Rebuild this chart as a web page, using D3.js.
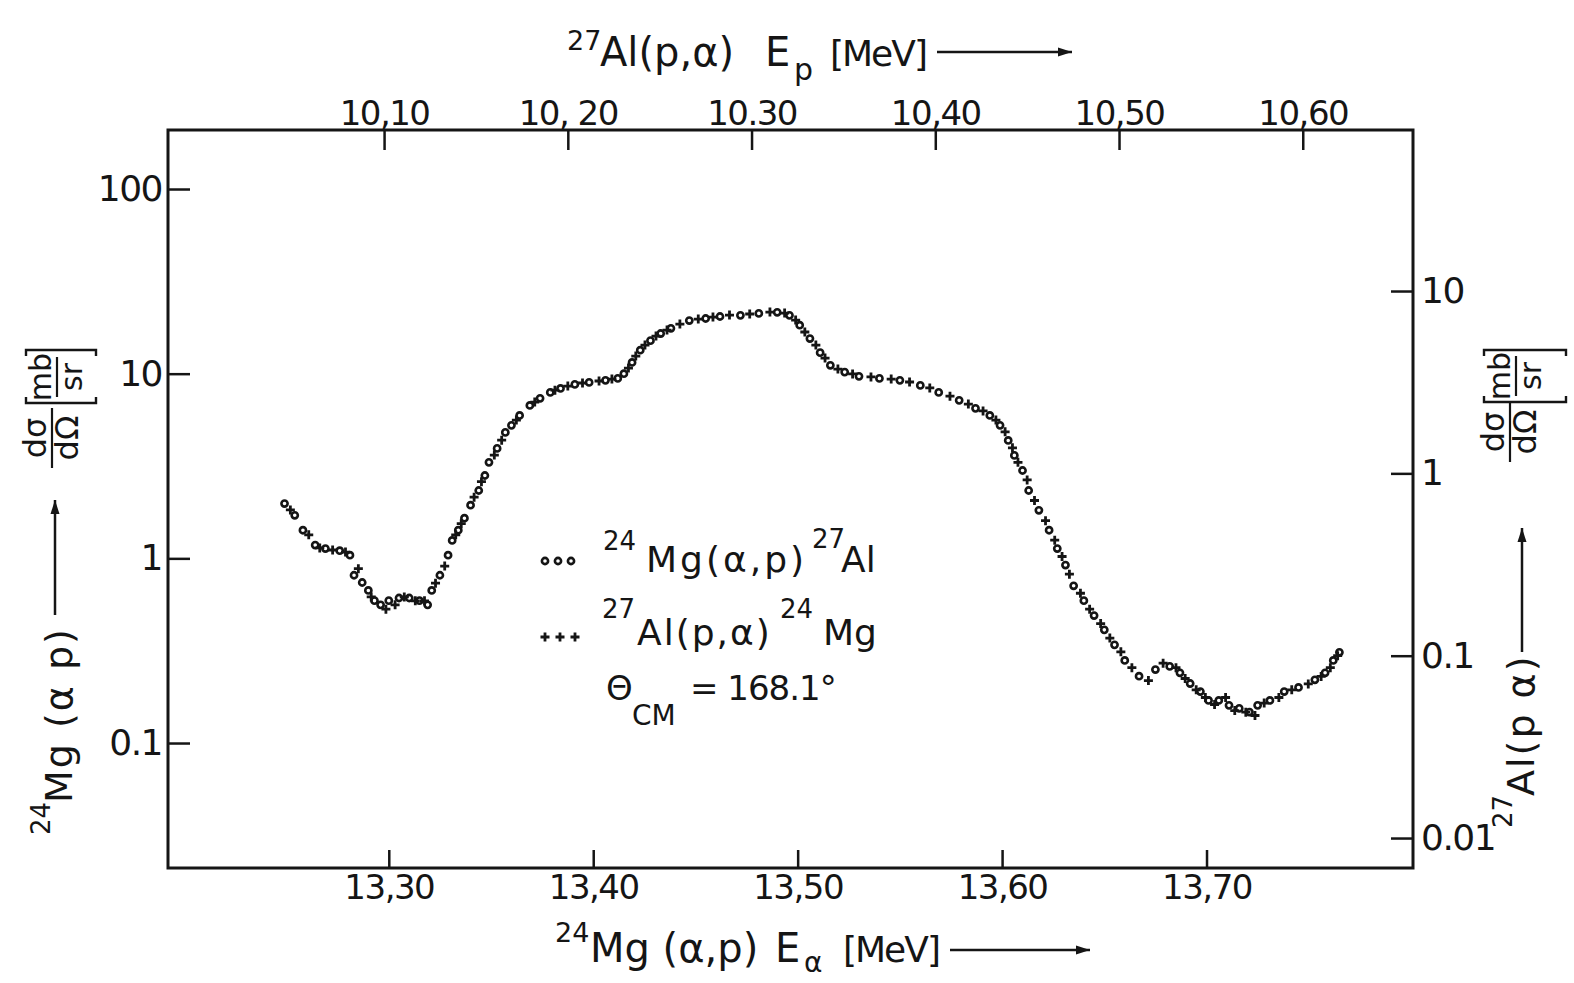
<!DOCTYPE html>
<html>
<head>
<meta charset="utf-8">
<script src="https://cdn.jsdelivr.net/npm/d3@7"></script>
<style>
body { margin: 0; background: #fff; }
svg text { font-family: "DejaVu Sans", sans-serif; fill: #151515; }
</style>
</head>
<body>
<div id="viz"></div>
<script>

/* 24Mg(a,p)27Al and 27Al(p,a)24Mg excitation functions, theta_cm = 168.1 deg */

// 24Mg(a,p)27Al points : E_alpha [MeV] , dsigma/dOmega [mb/sr] (left axis)
const alphaE = [13.249, 13.254, 13.258, 13.264, 13.269, 13.276, 13.281, 13.283, 13.287, 13.290,
    13.293, 13.296, 13.300, 13.305, 13.310, 13.315, 13.319, 13.321, 13.325, 13.329,
    13.331, 13.334, 13.337, 13.340, 13.344, 13.347, 13.349, 13.353, 13.357, 13.360,
    13.364, 13.369, 13.374, 13.379, 13.384, 13.391, 13.398, 13.406, 13.412, 13.415,
    13.419, 13.423, 13.428, 13.433, 13.438, 13.447, 13.455, 13.462, 13.472, 13.481,
    13.490, 13.496, 13.501, 13.506, 13.511, 13.516, 13.523, 13.530, 13.540, 13.550,
    13.560, 13.569, 13.579, 13.587, 13.594, 13.599, 13.603, 13.606, 13.610, 13.613,
    13.618, 13.623, 13.627, 13.631, 13.635, 13.640, 13.645, 13.650, 13.655, 13.660,
    13.667, 13.675, 13.682, 13.687, 13.692, 13.697, 13.701, 13.706, 13.711, 13.716,
    13.721, 13.725, 13.731, 13.738, 13.745, 13.753, 13.758, 13.762, 13.765];
const alphaSigma = [1.98, 1.71, 1.42, 1.18, 1.13, 1.10, 1.04, 0.81, 0.74, 0.67,
    0.59, 0.56, 0.59, 0.61, 0.61, 0.59, 0.56, 0.67, 0.81, 1.04,
    1.25, 1.42, 1.65, 1.94, 2.33, 2.81, 3.31, 3.94, 4.81, 5.25,
    5.94, 6.73, 7.35, 7.92, 8.32, 8.75, 8.97, 9.20, 9.43, 10.0,
    11.5, 13.4, 15.1, 16.5, 17.6, 19.4, 19.9, 20.4, 20.7, 21.2,
    21.5, 20.7, 18.3, 15.5, 13.0, 11.1, 10.2, 9.67, 9.43, 9.20,
    8.64, 7.92, 7.17, 6.49, 5.94, 5.25, 4.35, 3.61, 2.99, 2.33,
    1.82, 1.42, 1.13, 0.92, 0.71, 0.59, 0.49, 0.41, 0.34, 0.28,
    0.23, 0.25, 0.26, 0.24, 0.21, 0.19, 0.17, 0.17, 0.16, 0.154,
    0.147, 0.16, 0.17, 0.19, 0.20, 0.22, 0.24, 0.28, 0.31];

// 27Al(p,a)24Mg points : E_p [MeV] , dsigma/dOmega [mb/sr] (right axis)
const protonE = [10.049, 10.059, 10.065, 10.072, 10.079, 10.086, 10.093, 10.101, 10.106, 10.111,
    10.117, 10.122, 10.128, 10.133, 10.139, 10.142, 10.149, 10.153, 10.160, 10.164,
    10.172, 10.182, 10.193, 10.200, 10.208, 10.217, 10.224, 10.233, 10.237, 10.242,
    10.248, 10.254, 10.261, 10.271, 10.279, 10.288, 10.299, 10.310, 10.318, 10.324,
    10.329, 10.335, 10.340, 10.347, 10.355, 10.365, 10.376, 10.386, 10.397, 10.408,
    10.418, 10.426, 10.433, 10.438, 10.442, 10.445, 10.450, 10.454, 10.460, 10.465,
    10.469, 10.473, 10.479, 10.484, 10.490, 10.495, 10.501, 10.507, 10.516, 10.524,
    10.531, 10.536, 10.542, 10.547, 10.552, 10.558, 10.563, 10.569, 10.574, 10.579,
    10.587, 10.594, 10.603, 10.610, 10.615, 10.619];
const protonSigma = [0.63, 0.46, 0.39, 0.38, 0.37, 0.30, 0.21, 0.18, 0.19, 0.21,
    0.20, 0.20, 0.25, 0.31, 0.46, 0.53, 0.74, 0.90, 1.26, 1.52,
    1.96, 2.46, 2.86, 3.01, 3.13, 3.21, 3.29, 3.78, 4.40, 5.05,
    5.66, 6.11, 6.59, 7.02, 7.20, 7.38, 7.48, 7.67, 7.57, 6.93,
    5.96, 5.05, 4.29, 3.73, 3.51, 3.38, 3.29, 3.17, 2.94, 2.65,
    2.40, 2.20, 1.96, 1.69, 1.38, 1.15, 0.92, 0.71, 0.55, 0.43,
    0.35, 0.28, 0.22, 0.18, 0.15, 0.125, 0.105, 0.086, 0.073, 0.091,
    0.086, 0.075, 0.065, 0.059, 0.054, 0.059, 0.050, 0.049, 0.047, 0.055,
    0.059, 0.065, 0.070, 0.077, 0.086, 0.100];

// tick values and the labels as printed
const bottomTicks = [13.30, 13.40, 13.50, 13.60, 13.70];
const bottomLabels = ["13,30", "13,40", "13,50", "13,60", "13,70"];
const topTicks = [10.10, 10.20, 10.30, 10.40, 10.50, 10.60];
const topLabels = ["10,10", "10, 20", "10.30", "10,40", "10,50", "10,60"];
const leftTicks = [100, 10, 1, 0.1];
const leftLabels = ["100", "10", "1", "0.1"];
const rightTicks = [10, 1, 0.1, 0.01];
const rightLabels = ["10", "1", "0.1", "0.01"];


const width = 1574, height = 983;
const frame = { left: 168, right: 1413, top: 130, bottom: 868 };
const ink = "#151515";

const svg = d3.select("#viz").append("svg")
    .attr("width", width)
    .attr("height", height);

svg.append("rect").attr("width", width).attr("height", height).attr("fill", "#fff");

// scales: bottom/left for (a,p), top/right for (p,a)
const xBot = d3.scaleLinear([13.192, 13.801], [frame.left, frame.right]);
const xTop = d3.scaleLinear([9.9824, 10.660], [frame.left, frame.right]);
const yLeft = d3.scaleLog([0.02105, 208.7], [frame.bottom, frame.top]);
const yRight = d3.scaleLog([0.00685, 76.4], [frame.bottom, frame.top]);

// style an axis group: no domain, thick ticks
function styleAxis(g, size) {
    g.select(".domain").remove();
    g.selectAll(".tick line").attr("stroke", ink).attr("stroke-width", 2.5);
    g.selectAll(".tick text").style("font-size", size + "px").style("letter-spacing", "-1.5px");
}

svg.append("g")
    .attr("transform", `translate(0,${frame.bottom})`)
    .call(d3.axisBottom(xBot).tickValues(bottomTicks).tickFormat((d, i) => bottomLabels[i])
        .tickSizeInner(-18).tickSizeOuter(0).tickPadding(7))
    .call(g => styleAxis(g, 34));

svg.append("g")
    .attr("transform", `translate(0,${frame.top})`)
    .call(d3.axisTop(xTop).tickValues(topTicks).tickFormat((d, i) => topLabels[i])
        .tickSizeInner(-20).tickSizeOuter(0).tickPadding(5))
    .call(g => styleAxis(g, 34));

svg.append("g")
    .attr("transform", `translate(${frame.left},0)`)
    .call(d3.axisLeft(yLeft).tickValues(leftTicks).tickFormat((d, i) => leftLabels[i])
        .tickSizeInner(-22).tickSizeOuter(0).tickPadding(6))
    .call(g => styleAxis(g, 36));

svg.append("g")
    .attr("transform", `translate(${frame.right},0)`)
    .call(d3.axisRight(yRight).tickValues(rightTicks).tickFormat((d, i) => rightLabels[i])
        .tickSizeInner(-22).tickSizeOuter(0).tickPadding(8))
    .call(g => styleAxis(g, 36));

// frame
svg.append("rect")
    .attr("x", frame.left).attr("y", frame.top)
    .attr("width", frame.right - frame.left).attr("height", frame.bottom - frame.top)
    .attr("fill", "none").attr("stroke", ink).attr("stroke-width", 3);

// marks
function circles(g, pts) {
    g.selectAll("circle.pt").data(pts).join("circle")
        .attr("class", "pt")
        .attr("cx", d => d.x).attr("cy", d => d.y).attr("r", 3.1)
        .attr("fill", "none").attr("stroke", ink).attr("stroke-width", 2.6);
}
function crosses(g, pts) {
    g.selectAll("path.pt").data(pts).join("path")
        .attr("class", "pt")
        .attr("d", d => `M${d.x - 4.5},${d.y}H${d.x + 4.5}M${d.x},${d.y - 4.5}V${d.y + 4.5}`)
        .attr("stroke", ink).attr("stroke-width", 2.8);
}

const alphaPts = alphaE.map((e, i) => ({ x: xBot(e), y: yLeft(alphaSigma[i]) }));
const protonPts = protonE.map((e, i) => ({ x: xTop(e), y: yRight(protonSigma[i]) }));

circles(svg.append("g"), alphaPts);
crosses(svg.append("g"), protonPts);

// helpers for text
function txt(g, x, y, s, size, opts = {}) {
    return g.append("text")
        .attr("x", x).attr("y", y)
        .attr("text-anchor", opts.anchor || "start")
        .style("font-size", size + "px")
        .style("letter-spacing", (opts.ls || 0) + "px")
        .text(s);
}
function arrow(g, x1, y1, x2, y2) {
    g.append("line").attr("x1", x1).attr("y1", y1).attr("x2", x2).attr("y2", y2)
        .attr("stroke", ink).attr("stroke-width", 2.5);
    const a = Math.atan2(y2 - y1, x2 - x1), L = 14, w = 4.5;
    const bx = x2 - L * Math.cos(a), by = y2 - L * Math.sin(a);
    const px = -Math.sin(a) * w, py = Math.cos(a) * w;
    g.append("path")
        .attr("d", `M${x2},${y2}L${bx + px},${by + py}L${bx - px},${by - py}Z`)
        .attr("fill", ink);
}

// top title: 27Al(p,a)  Ep[MeV] -->
txt(svg, 567, 50, "27", 27);
txt(svg, 600, 66, "Al(p,α)", 40);
txt(svg, 765, 66, "E", 40);
txt(svg, 794, 80, "p", 30);
txt(svg, 830, 66, "[MeV]", 36, { ls: -2 });
arrow(svg, 937, 52, 1072, 52);

// bottom title: 24Mg (a,p)  Ea [MeV] -->
txt(svg, 555, 942, "24", 27);
txt(svg, 590, 962, "Mg (α,p)", 40);
txt(svg, 775, 962, "E", 40);
txt(svg, 804, 972, "α", 28);
txt(svg, 843, 962, "[MeV]", 36, { ls: -2 });
arrow(svg, 950, 950, 1090, 950);

// rotated side labels, drawn in a rotate(-90) frame: local x = -screenY, local y = screenX
function sideLabel(sx, iso, reaction, yStart) {
    const g = svg.append("g").attr("transform", "rotate(-90)");
    txt(g, -yStart, sx - 22, iso, 26);
    txt(g, -yStart + 32, sx, reaction, 38, { ls: 2 });
    return g;
}
function fraction(g, sxLine, syCenter, num, den, size, half) {
    txt(g, -syCenter, sxLine - 6, num, size, { anchor: "middle" });
    txt(g, -syCenter, sxLine + size * 0.82, den, size, { anchor: "middle" });
    g.append("line")
        .attr("x1", -syCenter - half).attr("x2", -syCenter + half)
        .attr("y1", sxLine).attr("y2", sxLine)
        .attr("stroke", ink).attr("stroke-width", 2.2);
}
function bracket(g, sx1, sx2, sy1, sy2) {
    // sy1 bottom '[' , sy2 top ']'
    g.append("path")
        .attr("d", `M${-sy1 + 6},${sx1}H${-sy1}V${sx2}H${-sy1 + 6}` +
                   `M${-sy2 - 6},${sx1}H${-sy2}V${sx2}H${-sy2 - 6}`)
        .attr("fill", "none").attr("stroke", ink).attr("stroke-width", 2.4);
}

// left label
const gl = sideLabel(72, "24", "Mg (α p)", 835);
arrow(svg, 55, 615, 55, 500);
fraction(gl, 52, 438, "dσ", "dΩ", 32, 30);
bracket(gl, 26, 96, 403, 350);
fraction(gl, 57, 377, "mb", "sr", 30, 20);

// right label
const gr = sideLabel(1534, "27", "Al(p α)", 828);
arrow(svg, 1522, 652, 1522, 528);
fraction(gr, 1510, 432, "dσ", "dΩ", 32, 30);
bracket(gr, 1484, 1566, 402, 350);
fraction(gr, 1516, 376, "mb", "sr", 30, 20);

// legend
const lg = svg.append("g");
circles(lg, [545, 558, 571].map(x => ({ x: x, y: 561 })));
txt(lg, 603, 550, "24", 26);
txt(lg, 646, 572, "Mg(α,p)", 36, { ls: 3 });
txt(lg, 812, 548, "27", 26);
txt(lg, 841, 572, "Al", 36);

crosses(lg, [545, 560, 575].map(x => ({ x: x, y: 637 })));
txt(lg, 602, 618, "27", 26);
txt(lg, 637, 645, "Al(p,α)", 36, { ls: 2 });
txt(lg, 780, 618, "24", 26);
txt(lg, 823, 645, "Mg", 36);

txt(lg, 606, 700, "Θ", 34);
txt(lg, 632, 725, "CM", 28);
txt(lg, 690, 700, "= 168.1°", 34, { ls: -1 });

</script>
</body>
</html>
